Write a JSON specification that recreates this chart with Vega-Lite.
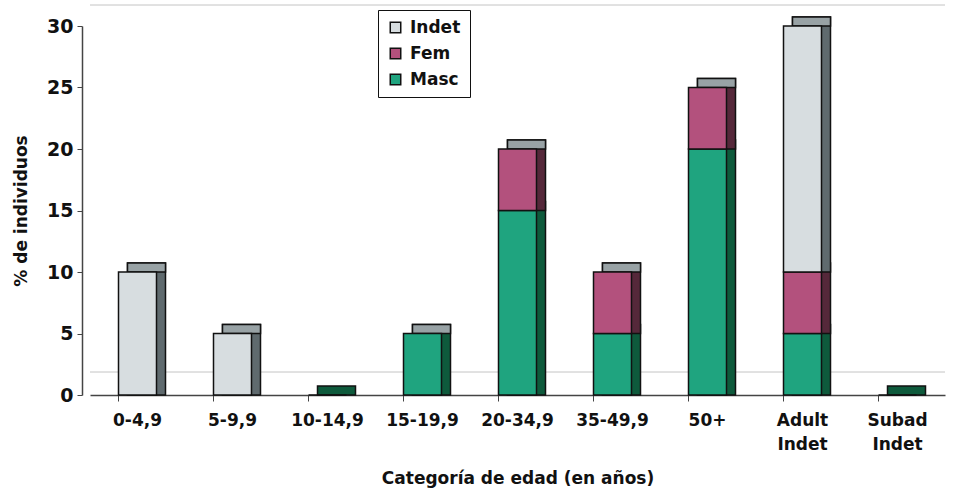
{
  "$schema": "https://vega.github.io/schema/vega-lite/v6.json",
  "width": 855,
  "height": 369,
  "autosize": {"type": "none"},
  "padding": {"left": 90, "top": 26, "right": 14, "bottom": 97},
  "background": "white",
  "config": {
    "view": {"stroke": null},
    "font": "DejaVu Sans",
    "axis": {"labelFont": "DejaVu Sans", "titleFont": "DejaVu Sans", "labelColor": "#111", "titleColor": "#111"},
    "axisY": {
      "titleFontSize": 17,
      "titleFontWeight": "bold",
      "titlePadding": 16,
      "labelFontSize": 19,
      "labelFontWeight": "bold",
      "labelPadding": 4,
      "offset": 8,
      "grid": false,
      "tickSize": 5,
      "tickColor": "#444",
      "domainColor": "#444",
      "domainWidth": 1.5
    },
    "legend": {"labelFont": "DejaVu Sans"}
  },
  "datasets": {
    "edades": [
      {"cat": "0-4,9", "sexo": "Indet", "ord": 3, "valor": 10},
      {"cat": "5-9,9", "sexo": "Indet", "ord": 3, "valor": 5},
      {"cat": "10-14,9", "sexo": "Masc", "ord": 1, "valor": 0},
      {"cat": "15-19,9", "sexo": "Masc", "ord": 1, "valor": 5},
      {"cat": "20-34,9", "sexo": "Masc", "ord": 1, "valor": 15},
      {"cat": "20-34,9", "sexo": "Fem", "ord": 2, "valor": 5},
      {"cat": "35-49,9", "sexo": "Masc", "ord": 1, "valor": 5},
      {"cat": "35-49,9", "sexo": "Fem", "ord": 2, "valor": 5},
      {"cat": "50+", "sexo": "Masc", "ord": 1, "valor": 20},
      {"cat": "50+", "sexo": "Fem", "ord": 2, "valor": 5},
      {"cat": "Adult Indet", "sexo": "Masc", "ord": 1, "valor": 5},
      {"cat": "Adult Indet", "sexo": "Fem", "ord": 2, "valor": 5},
      {"cat": "Adult Indet", "sexo": "Indet", "ord": 3, "valor": 20},
      {"cat": "Subad Indet", "sexo": "Masc", "ord": 1, "valor": 0}
    ],
    "pared": [{"nombre": "suelo"}]
  },
  "data": {"name": "edades"},
  "encoding": {
    "x": {
      "field": "cat",
      "type": "nominal",
      "sort": ["0-4,9", "5-9,9", "10-14,9", "15-19,9", "20-34,9", "35-49,9", "50+", "Adult Indet", "Subad Indet"],
      "scale": {"paddingInner": 0.6, "paddingOuter": 0.3},
      "axis": {
        "title": "Categoría de edad (en años)",
        "titleFontSize": 17,
        "titleFontWeight": "bold",
        "titlePadding": 18,
        "labelAngle": 0,
        "labelFontSize": 17,
        "labelFontWeight": "bold",
        "labelPadding": 11,
        "labelExpr": "split(datum.label, ' ')",
        "labelLineHeight": 24,
        "bandPosition": 0,
        "tickSize": 6,
        "tickColor": "#444",
        "domainColor": "#444",
        "domainWidth": 1.5
      }
    }
  },
  "layer": [
    {
      "data": {"name": "pared"},
      "mark": {"type": "rule", "color": "#c4c4c4", "strokeWidth": 1, "yOffset": -23},
      "encoding": {
        "x": null,
        "y": {"datum": 0, "type": "quantitative", "scale": {"domain": [0, 30], "nice": false},
              "axis": {"title": "% de individuos", "values": [0, 5, 10, 15, 20, 25, 30]}}
      }
    },
    {
      "data": {"name": "pared"},
      "mark": {"type": "rule", "color": "#c4c4c4", "strokeWidth": 1, "yOffset": -21},
      "encoding": {
        "x": null,
        "y": {"datum": 30, "type": "quantitative",
              "axis": {"title": "% de individuos", "values": [0, 5, 10, 15, 20, 25, 30]}}
      }
    },
    {
      "transform": [
        {"stack": "valor", "groupby": ["cat"], "sort": [{"field": "ord", "order": "ascending"}], "as": ["ini", "fin"]}
      ],
      "mark": {"type": "bar", "width": {"band": 1}, "xOffset": 9, "yOffset": -9, "y2Offset": 0.01, "stroke": "#111", "strokeWidth": 1.5},
      "encoding": {
        "y": {"field": "fin", "type": "quantitative",
              "axis": {"title": "% de individuos", "values": [0, 5, 10, 15, 20, 25, 30]}},
        "y2": {"field": "ini"},
        "color": {
          "field": "sexo",
          "type": "nominal",
          "scale": {"domain": ["Indet", "Fem", "Masc"], "range": ["#5f6a6e", "#55283a", "#0e5a3c"]},
          "legend": null
        }
      }
    },
    {
      "transform": [
        {"aggregate": [{"op": "sum", "field": "valor", "as": "total"}], "groupby": ["cat"]},
        {"filter": "datum.total > 0"}
      ],
      "mark": {"type": "bar", "width": {"band": 1}, "xOffset": 9, "yOffset": -9, "y2Offset": 0.01, "color": "#98a2a5", "stroke": "#111", "strokeWidth": 1.5},
      "encoding": {
        "y": {"field": "total", "type": "quantitative",
              "axis": {"title": "% de individuos", "values": [0, 5, 10, 15, 20, 25, 30]}},
        "y2": {"field": "total"}
      }
    },
    {
      "mark": {"type": "bar", "width": {"band": 1}, "stroke": "#111", "strokeWidth": 1.5},
      "encoding": {
        "y": {"field": "valor", "type": "quantitative", "stack": "zero",
              "axis": {"title": "% de individuos", "values": [0, 5, 10, 15, 20, 25, 30]}},
        "order": {"field": "ord", "type": "quantitative"},
        "color": {
          "field": "sexo",
          "type": "nominal",
          "scale": {"domain": ["Indet", "Fem", "Masc"], "range": ["#d7dde0", "#b3517d", "#1fa47f"]},
          "legend": {
            "title": null,
            "orient": "none",
            "legendX": 288,
            "legendY": -16,
            "direction": "vertical",
            "strokeColor": "#111",
            "fillColor": "white",
            "padding": 9,
            "symbolType": "square",
            "symbolSize": 110,
            "symbolStrokeColor": "#111",
            "symbolStrokeWidth": 1.5,
            "labelFontSize": 17,
            "labelFontWeight": "bold",
            "labelColor": "#111",
            "rowPadding": 8,
            "labelOffset": 6
          }
        }
      }
    }
  ],
  "resolve": {"scale": {"color": "independent"}}
}
